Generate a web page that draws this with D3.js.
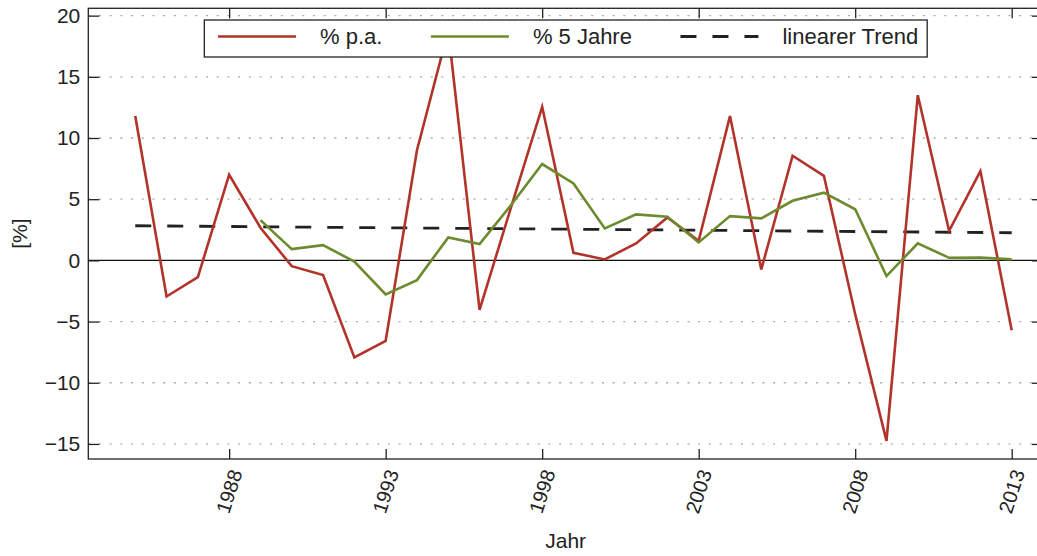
<!DOCTYPE html>
<html>
<head>
<meta charset="utf-8">
<script src="https://d3js.org/d3.v7.min.js"></script>
<style>
  body { margin: 0; background: #fff; }
  svg text { font-family: "Liberation Sans", Arial, Helvetica, sans-serif; fill: #222; }
</style>
</head>
<body>
<svg width="1037" height="556"></svg>
<script>
// jahreswerte
var years = [1985,1986,1987,1988,1989,1990,1991,1992,1993,1994,1995,1996,1997,1998,1999,
             2000,2001,2002,2003,2004,2005,2006,2007,2008,2009,2010,2011,2012,2013];
var pctPA = [11.8,-2.95,-1.37,7.0,2.67,-0.47,-1.2,-7.93,-6.57,9.0,18.8,-4.05,4.3,12.55,0.62,
             0.08,1.39,3.51,1.6,11.79,-0.74,8.55,6.91,-4.4,-14.75,13.5,2.42,7.3,-5.7];

// gleitend 5 Jahre (ab 1989)
var fiveYears = [1989,1990,1991,1992,1993,1994,1995,1996,1997,1998,1999,2000,2001,
                 2002,2003,2004,2005,2006,2007,2008,2009,2010,2011,2012,2013];
var pct5J = [3.29,0.92,1.25,-0.1,-2.78,-1.61,1.88,1.33,4.5,7.87,6.29,2.61,3.76,
             3.56,1.47,3.62,3.43,4.87,5.53,4.18,-1.28,1.39,0.21,0.24,0.08];

// linearer Trend, Endpunkte
var trendYears = [1985, 2013];
var trendValues = [2.83, 2.26];

var xTicks = [1988, 1993, 1998, 2003, 2008, 2013];
var yTicks = [-15, -10, -5, 0, 5, 10, 15, 20];
var legendLabels = ['% p.a.', '% 5 Jahre', 'linearer Trend'];

var red = '#b2332a', green = '#6b8b2e', dark = '#222';

var svg = d3.select('svg');
var pLeft = 88.3, pRight = 1043, pTop = 8.3, pBottom = 459;

var x = d3.scaleLinear().domain([1983.5, 2014]).range([pLeft, pRight]);
var y = d3.scaleLinear().domain([-16.23, 20.6]).range([pBottom, pTop]);

// gitter
svg.append('g').selectAll('line').data(yTicks.filter(function(d){ return d !== 0; }))
  .enter().append('line')
  .attr('x1', pLeft).attr('x2', pRight)
  .attr('y1', function(d){ return y(d); }).attr('y2', function(d){ return y(d); })
  .attr('stroke', '#aaa').attr('stroke-width', 1.3).attr('stroke-dasharray', '2,8.7');

// nulllinie
svg.append('line').attr('x1', pLeft).attr('x2', pRight)
  .attr('y1', y(0)).attr('y2', y(0)).attr('stroke', '#111').attr('stroke-width', 1.1);

// linien
var line = d3.line().x(function(d){ return x(d[0]); }).y(function(d){ return y(d[1]); });

svg.append('path').datum(d3.zip(trendYears, trendValues)).attr('d', line)
  .attr('fill', 'none').attr('stroke', dark).attr('stroke-width', 2.8)
  .attr('stroke-dasharray', '16,16');

svg.append('path').datum(d3.zip(years, pctPA)).attr('d', line)
  .attr('fill', 'none').attr('stroke', red).attr('stroke-width', 2.6);

svg.append('path').datum(d3.zip(fiveYears, pct5J)).attr('d', line)
  .attr('fill', 'none').attr('stroke', green).attr('stroke-width', 2.6);

// achsen
function styleAxis(g) {
  g.select('.domain').remove();
  g.selectAll('.tick line').attr('stroke', dark).attr('stroke-width', 1.3);
  g.selectAll('.tick text').attr('fill', dark).style('font-size', '21px')
    .style('font-family', '"Liberation Sans", Arial, sans-serif');
}

svg.append('g').attr('transform', 'translate(' + pLeft + ',0)')
  .call(d3.axisLeft(y).tickValues(yTicks).tickSize(-11).tickPadding(8)
    .tickFormat(function(d){ return d < 0 ? '\u2212' + Math.abs(d) : d; }))
  .call(styleAxis);

svg.append('g').attr('transform', 'translate(' + pRight + ',0)')
  .call(d3.axisRight(y).tickValues(yTicks).tickSize(-11).tickFormat(''))
  .call(styleAxis);

var xb = svg.append('g').attr('transform', 'translate(0,' + pBottom + ')')
  .call(d3.axisBottom(x).tickValues(xTicks).tickSize(-10).tickFormat(d3.format('d')))
  .call(styleAxis);
xb.selectAll('.tick text')
  .style('font-size', '20px')
  .attr('text-anchor', 'end').attr('y', 0).attr('dy', 0)
  .attr('transform', 'translate(13,13.5) rotate(-72)');

svg.append('g').attr('transform', 'translate(0,' + pTop + ')')
  .call(d3.axisTop(x).tickValues(xTicks).tickSize(-10).tickFormat(''))
  .call(styleAxis);

// rahmen
svg.append('rect').attr('x', pLeft).attr('y', pTop)
  .attr('width', pRight - pLeft).attr('height', pBottom - pTop)
  .attr('fill', 'none').attr('stroke', dark).attr('stroke-width', 1.3);

// beschriftung
svg.append('text').attr('x', (pLeft + pRight) / 2).attr('y', 548)
  .attr('text-anchor', 'middle').style('font-size', '21px').text('Jahr');

svg.append('text').attr('transform', 'translate(27,' + ((pTop + pBottom) / 2) + ') rotate(-90)')
  .attr('text-anchor', 'middle').style('font-size', '21px').text('[%]');

// legende
var legend = svg.append('g');
var box = legend.append('rect').attr('x', 204.3).attr('y', 20).attr('height', 37)
  .attr('fill', '#fff').attr('stroke', dark).attr('stroke-width', 1.3);
var colors = [red, green, dark];
var dashes = [null, null, '16,16'];
var cx = 218;
legendLabels.forEach(function(lbl, i) {
  legend.append('line').attr('x1', cx).attr('x2', cx + 78).attr('y1', 36.5).attr('y2', 36.5)
    .attr('stroke', colors[i]).attr('stroke-width', i === 2 ? 2.8 : 2.6)
    .attr('stroke-dasharray', dashes[i]);
  var t = legend.append('text').attr('x', cx + 102).attr('y', 43.8)
    .style('font-size', '22px').text(lbl);
  cx = cx + 102 + t.node().getComputedTextLength() + 48.5;
});
box.attr('width', cx - 48.5 + 9 - 204.3);
</script>
</body>
</html>
